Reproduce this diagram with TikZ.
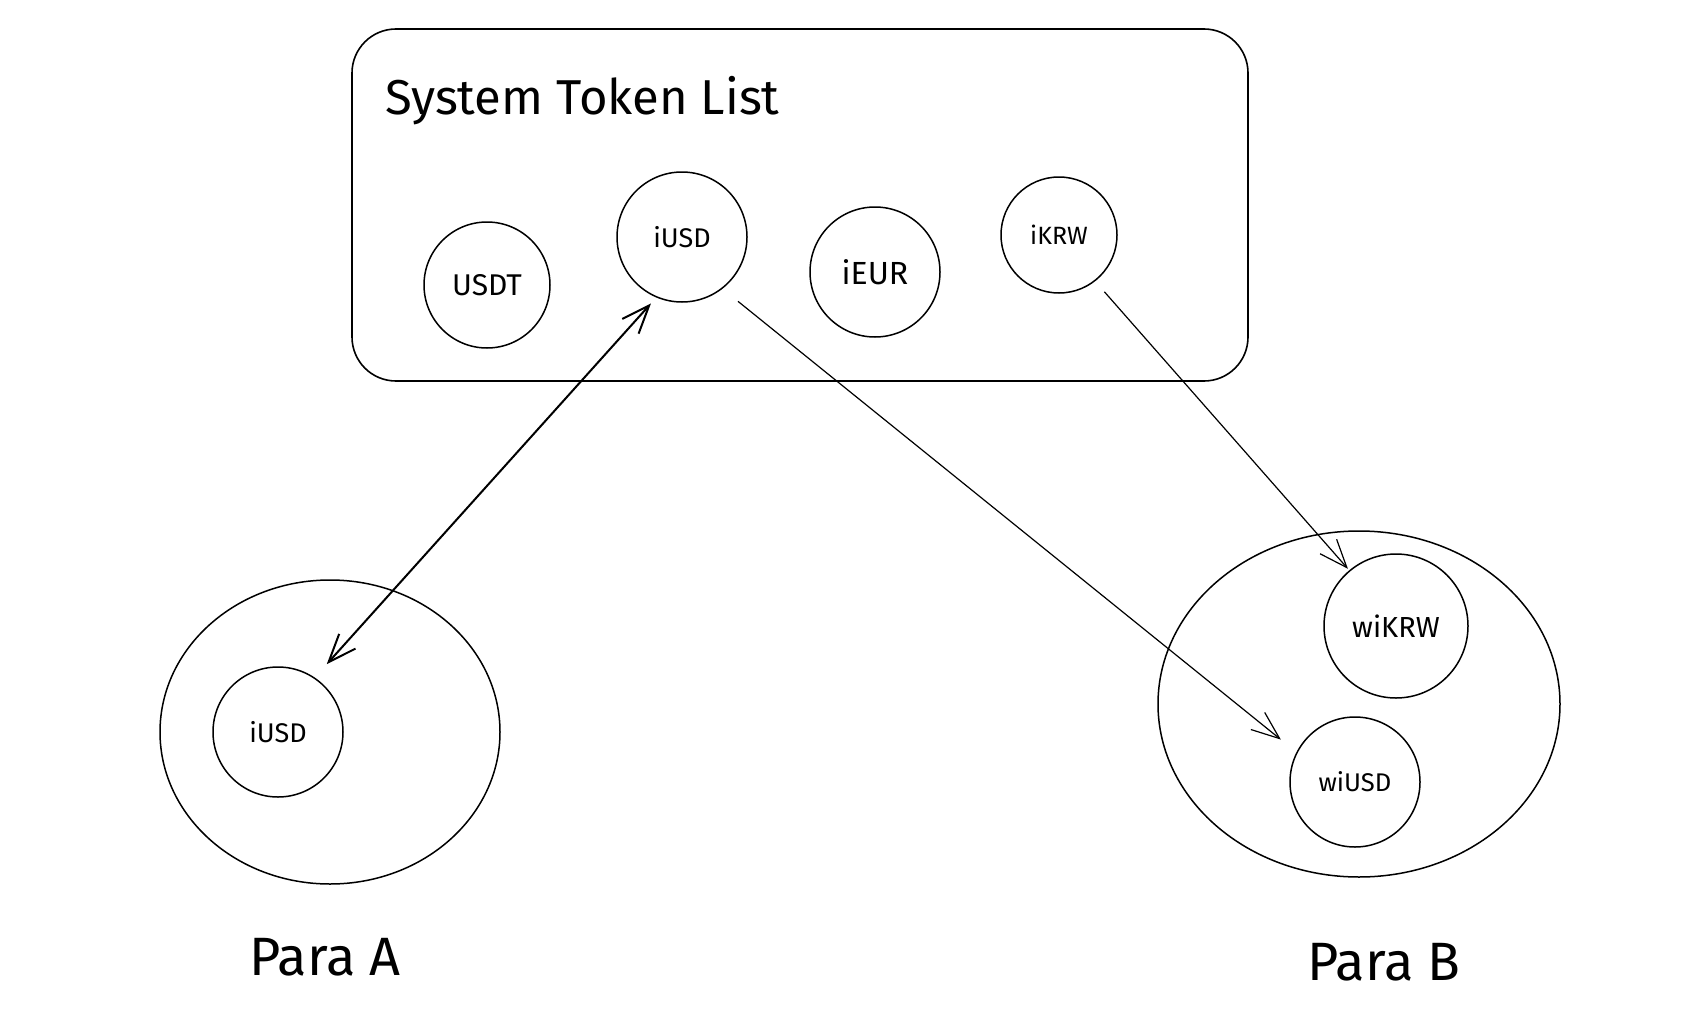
\documentclass[tikz,border=0pt]{standalone}
\usepackage{fontspec}
\setmainfont{Fira Sans}
\usetikzlibrary{arrows.meta, positioning, shapes.geometric}

\begin{document}
\begin{tikzpicture}[
    x=0.5pt,
    y=-0.5pt,
    tokenlist/.style={
        rectangle,
        draw,
        rounded corners=22pt,
        line width=0.8pt,
        minimum width=448pt,
        minimum height=176pt
    },
    token/.style={
        circle,
        draw,
        inner sep=0pt,
        line width=0.75pt,
        font=\fontsize{13.5}{16}\selectfont
    },
    parachain/.style={
        ellipse,
        draw,
        line width=0.75pt
    },
    paraname/.style={
        anchor=base,
        font=\fontsize{27}{32}\selectfont
    },
    link/.style={-{Straight Barb[length=14pt, width=11pt]}, line width=0.6pt}
]

\useasboundingbox (0,0) rectangle (1698,1012);

\node[tokenlist] (list) at (800,205) {};
\node[anchor=base west, font=\fontsize{24.5}{30}\selectfont] (list_title) at (378,114) {System Token List};

\node[token, minimum size=63pt, font=\fontsize{15}{18}\selectfont] (usdt) at (487,285) {USDT};
\node[token, minimum size=65pt] (iusd) at (682,237) {iUSD};
\node[token, minimum size=65pt, font=\fontsize{16}{19}\selectfont] (ieur) at (875,272) {iEUR};
\node[token, minimum size=58pt, font=\fontsize{12.5}{15}\selectfont] (ikrw) at (1059,235) {iKRW};

\node[parachain, minimum width=170pt, minimum height=152pt] (para_a) at (330,732) {};
\node[token, minimum size=65pt] (a_iusd) at (278,732) {iUSD};
\node[paraname] (para_a_name) at (325,975) {Para A};

\node[parachain, minimum width=201pt, minimum height=173pt] (para_b) at (1359,704) {};
\node[token, minimum size=72pt, font=\fontsize{14.5}{17}\selectfont] (b_wikrw) at (1396,626) {wiKRW};
\node[token, minimum size=65pt, font=\fontsize{12.8}{15}\selectfont] (b_wiusd) at (1355,782) {wiUSD};
\node[paraname] (para_b_name) at (1384,980) {Para B};

\draw[link, {Straight Barb[length=14pt, width=11pt]}-{Straight Barb[length=14pt, width=11pt]}, line width=1pt, shorten <=4pt, shorten >=9pt] (iusd.247) -- (a_iusd.56);
\draw[link, shorten <=10pt, shorten >=10pt] (iusd.308) -- (b_wiusd.153);
\draw[link, shorten <=7pt, shorten >=1pt] (ikrw.308) -- (b_wikrw.130);

\end{tikzpicture}
\end{document}
